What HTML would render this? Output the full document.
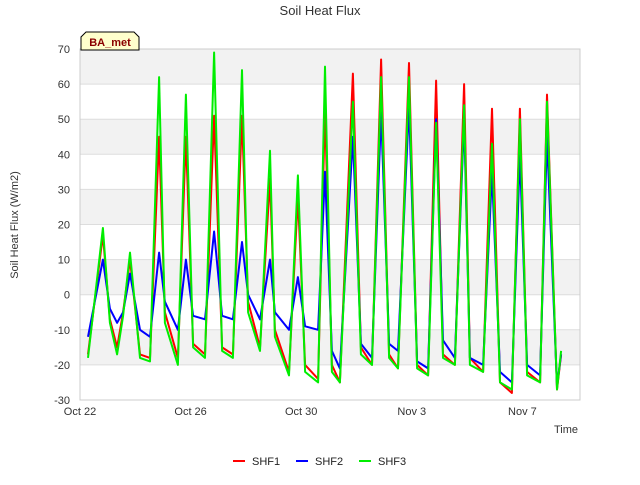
<!DOCTYPE html>
<html><head><meta charset="utf-8"><style>
body{margin:0;background:#fff;font-family:"Liberation Sans","DejaVu Sans",sans-serif}
</style></head><body>
<svg id="chart" width="640" height="480" xmlns="http://www.w3.org/2000/svg" font-family="Liberation Sans, DejaVu Sans, sans-serif">
<rect width="640" height="480" fill="#fff"/>
<text x="320" y="15" text-anchor="middle" font-size="13" fill="#333">Soil Heat Flux</text>
<g id="bands"></g>
<g id="grid"></g>
<g id="yticks"></g>
<g id="xticks"></g>
<text transform="translate(18,225) rotate(-90)" text-anchor="middle" font-size="11" fill="#333">Soil Heat Flux (W/m2)</text>
<text x="578" y="433" text-anchor="end" font-size="11" fill="#333">Time</text>
<g id="series"></g>
<g>
<path d="M81,50 L81,37 L86,32 L134,32 L139,37 L139,50 Z" fill="#ffffcc" stroke="#000" stroke-width="1"/>
<text x="110" y="46" text-anchor="middle" font-size="11" font-weight="bold" fill="#8b0000">BA_met</text>
</g>
<g font-size="11" fill="#222">
<g><line x1="233" y1="461" x2="245" y2="461" stroke="#ff0000" stroke-width="2"/><text x="252" y="465">SHF1</text></g>
<g><line x1="296" y1="461" x2="308" y2="461" stroke="#0000ff" stroke-width="2"/><text x="315" y="465">SHF2</text></g>
<g><line x1="359" y1="461" x2="371" y2="461" stroke="#00ee00" stroke-width="2"/><text x="378" y="465">SHF3</text></g>
</g>
</svg>
<script>
const times=[0.29,0.83,1.08,1.34,1.56,1.81,2.17,2.53,2.86,3.07,3.54,3.83,4.09,4.52,4.85,5.14,5.53,5.86,6.08,6.51,6.87,7.05,7.56,7.88,8.14,8.61,8.86,9.11,9.40,9.87,10.16,10.56,10.89,11.18,11.50,11.90,12.19,12.59,12.88,13.13,13.56,13.89,14.10,14.58,14.90,15.19,15.62,15.91,16.17,16.64,16.89,17.25,17.40];
const shf1=[-17,17,-7,-15,-5,10,-17,-18,45,-5,-18,45,-14,-17,51,-15,-17,51,-2,-15,33,-10,-22,28,-20,-24,53,-20,-25,63,-15,-20,67,-17,-21,66,-20,-23,61,-17,-20,60,-18,-22,53,-25,-28,53,-22,-25,57,-27,-17];
const shf2=[-12,10,-4,-8,-5,6,-10,-12,12,-2,-10,10,-6,-7,18,-6,-7,15,0,-7,10,-5,-10,5,-9,-10,35,-16,-21,45,-14,-18,52,-14,-16,54,-19,-21,50,-13,-18,50,-18,-20,35,-22,-25,40,-20,-23,45,-26,-17];
const shf3=[-18,19,-8,-17,-6,12,-18,-19,62,-8,-20,57,-15,-18,69,-16,-18,64,-5,-16,41,-12,-23,34,-22,-25,65,-22,-25,55,-17,-20,62,-18,-21,62,-21,-23,49,-18,-20,54,-20,-22,43,-25,-27,50,-23,-25,55,-27,-16];
const yTicks=[-30,-20,-10,0,10,20,30,40,50,60,70];
const xTickDays=[0,4,8,12,16];
const xTickLabels=["Oct 22","Oct 26","Oct 30","Nov 3","Nov 7"];
const X0=80,X1=580,Y0=400,Y1=49,YMIN=-30,YMAX=70,DPX=27.65;
const xs=d=>X0+d*DPX;
const ys=v=>Y0-(v-YMIN)/(YMAX-YMIN)*(Y0-Y1);
const NS="http://www.w3.org/2000/svg";
function mk(tag,attrs,parent){const e=document.createElementNS(NS,tag);for(const k in attrs)e.setAttribute(k,attrs[k]);parent.appendChild(e);return e;}
const bands=document.getElementById('bands');
mk('rect',{x:X0,y:Y1,width:X1-X0,height:Y0-Y1,fill:'#fff'},bands);
for(let i=0;i<yTicks.length-1;i++){
  if(i%2===1){const r=mk('rect',{x:X0,y:ys(yTicks[i+1]),width:X1-X0,height:ys(yTicks[i])-ys(yTicks[i+1]),fill:'#f2f2f2'},bands);
  
  }
}
const grid=document.getElementById('grid');
yTicks.forEach(v=>{mk('line',{x1:X0,x2:X1,y1:ys(v),y2:ys(v),stroke:'#ddd','stroke-width':1},grid);});
mk('rect',{x:X0,y:Y1,width:X1-X0,height:Y0-Y1,fill:'none',stroke:'#ccc'},grid);
const yt=document.getElementById('yticks');
yTicks.forEach(v=>{const t=mk('text',{x:70,y:ys(v)+4,'text-anchor':'end','font-size':11,fill:'#333'},yt);t.textContent=v;

});
const xt=document.getElementById('xticks');
xTickDays.forEach((d,i)=>{const t=mk('text',{x:xs(d),y:415,'text-anchor':'middle','font-size':11,fill:'#333'},xt);t.textContent=xTickLabels[i];

});
const sg=document.getElementById('series');
[[shf1,'#ff0000','line-shf1'],[shf2,'#0000ff','line-shf2'],[shf3,'#00ee00','line-shf3']].forEach(([vals,c,n])=>{
  const p=mk('polyline',{points:times.map((t,i)=>xs(t).toFixed(1)+','+ys(vals[i]).toFixed(1)).join(' '),fill:'none',stroke:c,'stroke-width':2,'stroke-linejoin':'round'},sg);
  
  
});
</script>
</body></html>
